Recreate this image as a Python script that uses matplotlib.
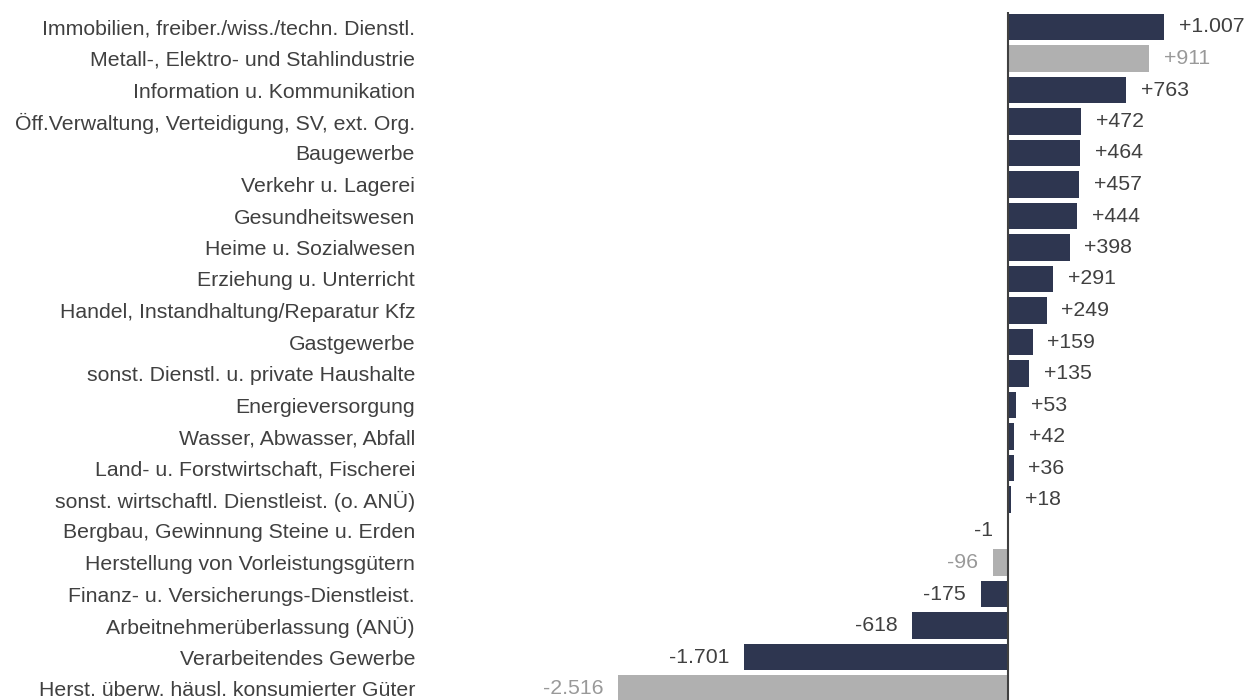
import matplotlib.pyplot as plt

# Change in employment by sector
categories = [
    "Immobilien, freiber./wiss./techn. Dienstl.",
    "Metall-, Elektro- und Stahlindustrie",
    "Information u. Kommunikation",
    "Öff.Verwaltung, Verteidigung, SV, ext. Org.",
    "Baugewerbe",
    "Verkehr u. Lagerei",
    "Gesundheitswesen",
    "Heime u. Sozialwesen",
    "Erziehung u. Unterricht",
    "Handel, Instandhaltung/Reparatur Kfz",
    "Gastgewerbe",
    "sonst. Dienstl. u. private Haushalte",
    "Energieversorgung",
    "Wasser, Abwasser, Abfall",
    "Land- u. Forstwirtschaft, Fischerei",
    "sonst. wirtschaftl. Dienstleist. (o. ANÜ)",
    "Bergbau, Gewinnung Steine u. Erden",
    "Herstellung von Vorleistungsgütern",
    "Finanz- u. Versicherungs-Dienstleist.",
    "Arbeitnehmerüberlassung (ANÜ)",
    "Verarbeitendes Gewerbe",
    "Herst. überw. häusl. konsumierter Güter",
]
values = [1007, 911, 763, 472, 464, 457, 444, 398, 291, 249, 159, 135,
          53, 42, 36, 18, -1, -96, -175, -618, -1701, -2516]
# sub-sectors of manufacturing are drawn in grey
highlight = [False, True, False, False, False, False, False, False, False,
             False, False, False, False, False, False, False, False, True,
             False, False, False, True]

NAVY = "#2e3650"
GREY = "#b0b0b0"
TEXT = "#404040"

W, H = 1253, 700
fig = plt.figure(figsize=(W / 100, H / 100), dpi=100)
plt.rcParams["font.family"] = ["Liberation Sans", "DejaVu Sans"]

left_px, right_px, top_px = 590, W, 12
ax = fig.add_axes([left_px / W, 0, (right_px - left_px) / W, 1 - top_px / H])

y = list(range(len(values)))
colors = [GREY if h else NAVY for h in highlight]
ax.barh(y, values, height=0.83, color=colors, zorder=2)

for i, v in enumerate(values):
    txt = f"{v:+,}".replace(",", ".")
    col = "#999999" if highlight[i] else TEXT
    if v >= 0:
        ax.text(v + 95, i, txt, ha="left", va="center", fontsize=15.3, color=col)
    else:
        ax.text(v - 95, i, txt, ha="right", va="center", fontsize=15.3, color=col)

ax.axvline(0, color="#404040", lw=1.5, zorder=3)

ax.set_xlim(-2697, 1581)
ax.set_ylim((H - 27) / 31.5, -(27 - top_px) / 31.5)

ax.set_yticks(y)
ax.set_yticklabels(categories, fontsize=15.3, color=TEXT)
ax.tick_params(axis="y", length=0, pad=(left_px - 415) * 0.72)
ax.set_xticks([])
for s in ax.spines.values():
    s.set_visible(False)

fig.savefig("out.png", dpi=100)
